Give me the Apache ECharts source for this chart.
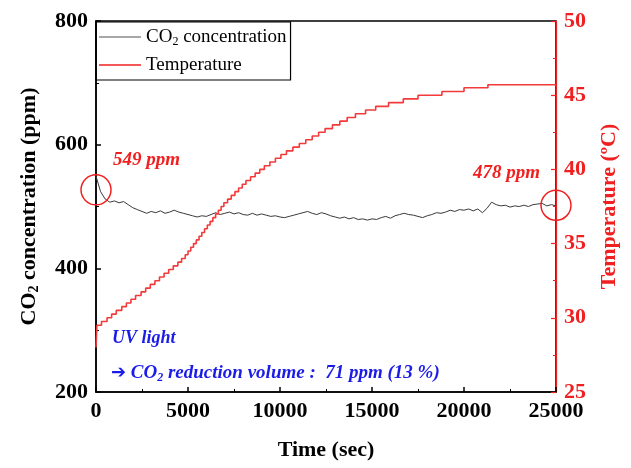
<!DOCTYPE html>
<html>
<head>
    <meta charset="utf-8">
    <title>CO2 concentration and temperature under UV light</title>
    <script src="https://cdn.jsdelivr.net/npm/echarts@6/dist/echarts.min.js"></script>
    <style>
        body, html { margin: 0; padding: 0; width: 100%; height: 100%; overflow: hidden; background: #fff; }
        #main { width: 631px; height: 468px; }
    </style>
</head>
<body>
    <div id="main"></div>
    <script type="text/javascript">
        // CO2 readings (ppm), one every co2Step seconds from t = 0
        var co2Step = 250;
        var co2Values = [
            549, 524, 512, 507, 509, 506, 508, 503, 498, 495,
            492, 489, 492, 490, 493, 489, 491, 494, 491, 489,
            487, 485, 483, 485, 484, 487, 490, 487, 489, 491,
            488, 490, 487, 486, 489, 486, 488, 486, 484, 485,
            483, 482, 484, 486, 488, 490, 492, 489, 487, 490,
            488, 485, 483, 481, 483, 480, 482, 479, 480, 478,
            480, 479, 482, 484, 481, 485, 487, 489, 487, 486,
            484, 482, 485, 487, 490, 489, 491, 494, 492, 495,
            494, 496, 493, 496, 490, 497, 507, 503, 501, 502,
            499, 501, 500, 502, 500, 503, 504, 505, 501, 503,
            501
        ];

        // temperature (time sec, deg C) — stepwise sensor readings
        var tempPoints = [
            [0, 28.0], [50, 29.5], [300, 29.75], [600, 30.0], [850, 30.25],
            [1100, 30.5], [1400, 30.75], [1650, 31.0], [1900, 31.25], [2150, 31.5],
            [2450, 31.75], [2700, 32.0], [2950, 32.25], [3200, 32.5], [3450, 32.75],
            [3700, 33.0], [3950, 33.25], [4200, 33.5], [4450, 33.75], [4650, 34.0],
            [4850, 34.25], [5000, 34.5], [5150, 34.75], [5300, 35.0], [5450, 35.25],
            [5600, 35.5], [5750, 35.75], [5900, 36.0], [6050, 36.25], [6200, 36.5],
            [6350, 36.75], [6500, 37.0], [6650, 37.25], [6800, 37.5], [6950, 37.75],
            [7150, 38.0], [7350, 38.25], [7550, 38.5], [7750, 38.75], [7950, 39.0],
            [8150, 39.25], [8400, 39.5], [8650, 39.75], [8900, 40.0], [9150, 40.25],
            [9450, 40.5], [9750, 40.75], [10050, 41.0], [10350, 41.25], [10700, 41.5],
            [11050, 41.75], [11400, 42.0], [11750, 42.25], [12100, 42.5], [12450, 42.75],
            [12850, 43.0], [13250, 43.25], [13650, 43.5], [14100, 43.75], [14650, 44.0],
            [15200, 44.25], [15900, 44.5], [16700, 44.75], [17500, 45.0], [18800, 45.25],
            [20000, 45.5], [21300, 45.7], [25000, 45.7]
        ];

        // circled readings: [time, ppm]
        var circledPoints = [[0, 527], [25000, 502]];

        var co2Data = co2Values.map(function (v, i) { return [i * co2Step, v]; });

        var serif = 'Liberation Serif';
        var red = '#f02020';
        var blue = '#1c1ce8';

        var myChart = echarts.init(document.getElementById('main'));

        var option = {
            animation: false,
            backgroundColor: '#fff',
            textStyle: { fontFamily: serif },
            grid: {
                left: 96, right: 75, top: 21, bottom: 76,
                show: true, borderColor: '#000', borderWidth: 1.5, backgroundColor: 'transparent'
            },
            legend: {
                orient: 'vertical',
                left: 96, top: 22,
                padding: [4, 4, 4, 3],
                itemGap: 6,
                icon: 'rect',
                itemWidth: 42, itemHeight: 1.5,
                borderColor: '#000', borderWidth: 1.2,
                textStyle: {
                    fontFamily: serif, fontSize: 19, color: '#000', lineHeight: 22,
                    rich: {
                        a: { fontFamily: serif, fontSize: 19, color: '#000', lineHeight: 22 },
                        s: { fontFamily: serif, fontSize: 12, color: '#000', verticalAlign: 'bottom', lineHeight: 22, padding: [9, 0, 0, 0] }
                    }
                },
                formatter: function (name) {
                    return name === 'CO2 concentration' ? '{a|CO}{s|2}{a| concentration}' : '{a|' + name + '}';
                },
                data: [
                    { name: 'CO2 concentration', itemStyle: { color: '#8a8a8a' } },
                    { name: 'Temperature', itemStyle: { color: red } }
                ]
            },
            xAxis: {
                type: 'value',
                min: 0, max: 25000, interval: 5000,
                name: 'Time (sec)',
                nameLocation: 'middle',
                nameGap: 47,
                nameTextStyle: { fontFamily: serif, fontWeight: 'bold', fontSize: 22, color: '#000' },
                axisLine: { lineStyle: { color: '#000', width: 1.5 } },
                axisTick: { inside: true, length: 5, lineStyle: { color: '#000', width: 1.5 } },
                minorTick: { show: true, splitNumber: 2, length: 3, lineStyle: { color: '#000' } },
                axisLabel: {
                    fontFamily: serif, fontWeight: 'bold', fontSize: 22, color: '#000', margin: 8,
                    formatter: function (v) { return String(v); }
                },
                splitLine: { show: false }
            },
            yAxis: [
                {
                    type: 'value',
                    min: 200, max: 800, interval: 200,
                    name: '{a|CO}{s|2}{a| concentration (ppm)}',
                    nameLocation: 'middle',
                    nameRotate: 90,
                    nameGap: 55,
                    nameTextStyle: {
                        rich: {
                            a: { fontFamily: serif, fontWeight: 'bold', fontSize: 22, color: '#000' },
                            s: { fontFamily: serif, fontWeight: 'bold', fontSize: 14, color: '#000', verticalAlign: 'bottom', padding: [10, 0, 0, 0] }
                        }
                    },
                    axisLine: { show: true, lineStyle: { color: '#000', width: 1.5 } },
                    axisTick: { inside: true, length: 5, lineStyle: { color: '#000', width: 1.5 } },
                    minorTick: { show: true, splitNumber: 2, length: 3, lineStyle: { color: '#000' } },
                    axisLabel: { fontFamily: serif, fontWeight: 'bold', fontSize: 22, color: '#000', margin: 8 },
                    splitLine: { show: false }
                },
                {
                    type: 'value',
                    position: 'right',
                    min: 25, max: 50, interval: 5,
                    name: 'Temperature (\u00baC)',
                    nameLocation: 'middle',
                    nameRotate: 90,
                    nameGap: 42,
                    nameTextStyle: { fontFamily: serif, fontWeight: 'bold', fontSize: 22, color: red },
                    axisLine: { show: true, lineStyle: { color: red, width: 1.2 } },
                    axisTick: { inside: true, length: 5, lineStyle: { color: red, width: 1.2 } },
                    minorTick: { show: true, splitNumber: 2, length: 3, lineStyle: { color: red } },
                    axisLabel: { fontFamily: serif, fontWeight: 'bold', fontSize: 22, color: red, margin: 8 },
                    splitLine: { show: false }
                }
            ],
            series: [
                {
                    name: 'CO2 concentration',
                    type: 'line',
                    data: co2Data,
                    symbol: 'none',
                    color: '#555',
                    lineStyle: { color: '#3a3a3a', width: 1 },
                    markPoint: {
                        symbol: 'circle',
                        symbolSize: 30,
                        silent: true,
                        label: { show: false },
                        itemStyle: { color: 'rgba(0,0,0,0)', borderColor: red, borderWidth: 1.5 },
                        data: circledPoints.map(function (p) { return { coord: p }; })
                    }
                },
                {
                    name: 'Temperature',
                    type: 'line',
                    yAxisIndex: 1,
                    step: 'end',
                    data: tempPoints,
                    symbol: 'none',
                    color: red,
                    lineStyle: { color: '#f23a3a', width: 1.6 }
                }
            ],
            graphic: [
                {
                    type: 'text', left: 113, top: 151,
                    style: { text: '549 ppm', fill: red, font: 'italic bold 19px "Liberation Serif"' }
                },
                {
                    type: 'text', left: 473, top: 164,
                    style: { text: '478 ppm', fill: red, font: 'italic bold 19px "Liberation Serif"' }
                },
                {
                    type: 'text', left: 112, top: 329,
                    style: { text: 'UV light', fill: blue, font: 'italic bold 18px "Liberation Serif"' }
                },
                {
                    type: 'text', left: 111, top: 364,
                    style: {
                        text: '{r|\u2794}{a| CO}{s|2}{a| reduction volume :  71 ppm (13 %)}',
                        rich: {
                            r: { fill: blue, font: 'bold 18px "DejaVu Sans"' },
                            a: { fill: blue, font: 'italic bold 19px "Liberation Serif"' },
                            s: { fill: blue, font: 'italic bold 12px "Liberation Serif"', verticalAlign: 'bottom', padding: [9, 0, 0, 0] }
                        }
                    }
                }
            ]
        };

        myChart.setOption(option);
    </script>
</body>
</html>
